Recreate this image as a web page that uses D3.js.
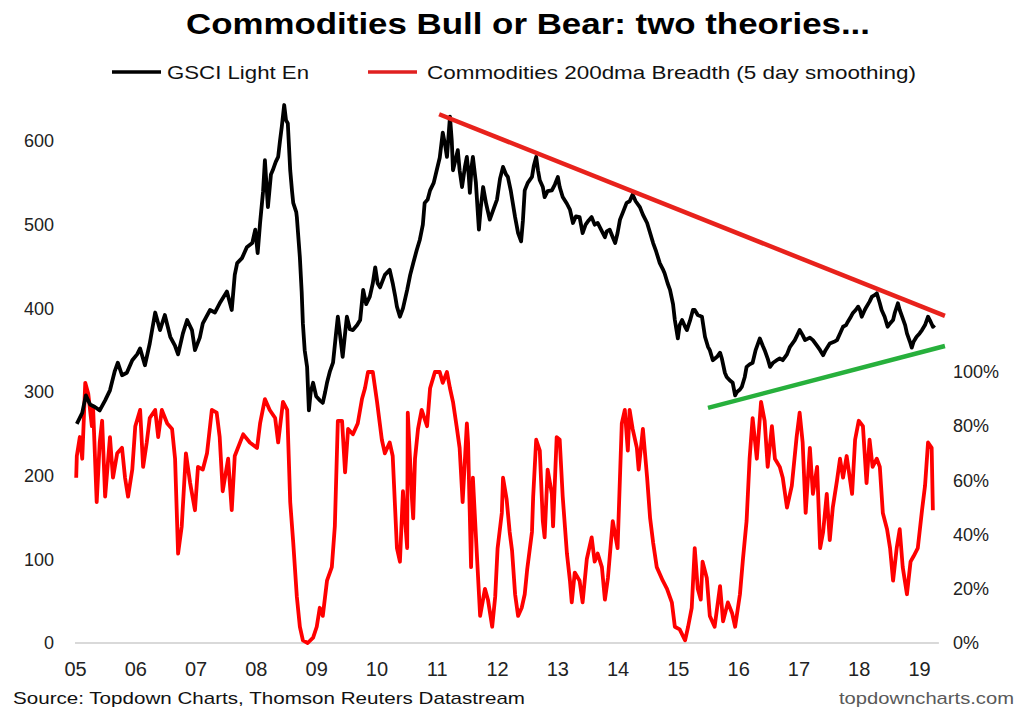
<!DOCTYPE html>
<html><head><meta charset="utf-8">
<script src="https://cdn.jsdelivr.net/npm/d3@7"></script>
<style>body{margin:0;background:#fff} svg{display:block}</style>
</head><body>
<svg id="chart" width="1024" height="720"></svg>
<script>
// ---------- DATA ----------
const titleText = "Commodities Bull or Bear: two theories...";
const seriesNames = ["GSCI Light En", "Commodities 200dma Breadth (5 day smoothing)"];
const sourceText = "Source: Topdown Charts, Thomson Reuters Datastream";
const brandText = "topdowncharts.com";

const yearTicks = [2005,2006,2007,2008,2009,2010,2011,2012,2013,2014,2015,2016,2017,2018,2019];
const yearLabels = ["05","06","07","08","09","10","11","12","13","14","15","16","17","18","19"];
const leftTicks = [0,100,200,300,400,500,600];
const rightTicks = [0,20,40,60,80,100];

const gsciDates = [
 2005.03,2005.12,2005.18,2005.25,2005.33,2005.41,2005.50,2005.58,2005.66,2005.71,2005.78,2005.86,2005.95,
 2006.03,2006.08,2006.16,2006.24,2006.33,2006.41,2006.49,2006.58,2006.66,2006.71,2006.79,2006.86,2006.94,2006.99,
 2007.07,2007.12,2007.24,2007.32,2007.40,2007.52,2007.60,2007.65,2007.69,2007.77,2007.85,2007.94,2007.99,
 2008.03,2008.07,2008.12,2008.15,2008.20,2008.25,2008.28,2008.33,2008.37,2008.40,2008.43,2008.47,2008.50,2008.53,2008.57,2008.60,2008.62,2008.67,2008.68,2008.73,2008.76,2008.78,2008.81,2008.85,2008.88,2008.91,2008.95,
 2009.00,2009.06,2009.11,2009.15,2009.18,2009.23,2009.28,2009.33,2009.36,2009.41,2009.44,2009.48,2009.51,2009.56,2009.61,2009.68,2009.73,2009.78,2009.83,2009.89,2009.94,2009.98,
 2010.02,2010.06,2010.14,2010.22,2010.27,2010.31,2010.34,2010.39,2010.44,2010.51,2010.56,2010.61,2010.67,2010.72,2010.77,2010.80,2010.85,2010.89,2010.95,
 2011.00,2011.05,2011.10,2011.14,2011.17,2011.22,2011.25,2011.27,2011.32,2011.35,2011.38,2011.42,2011.47,2011.50,2011.53,2011.55,2011.58,2011.60,2011.65,2011.70,2011.73,2011.77,2011.82,2011.88,2011.95,
 2012.00,2012.05,2012.10,2012.15,2012.18,2012.23,2012.30,2012.35,2012.40,2012.43,2012.46,2012.51,2012.58,2012.61,2012.65,2012.68,2012.71,2012.76,2012.79,2012.84,2012.91,2012.96,
 2013.01,2013.04,2013.09,2013.16,2013.21,2013.26,2013.31,2013.37,2013.42,2013.47,2013.52,2013.57,2013.62,2013.67,2013.72,2013.79,2013.82,2013.87,2013.92,2013.96,
 2014.00,2014.04,2014.09,2014.15,2014.20,2014.25,2014.30,2014.37,2014.42,2014.49,2014.54,2014.59,2014.64,2014.70,2014.75,2014.78,2014.83,2014.87,2014.92,2014.95,
 2015.00,2015.03,2015.07,2015.12,2015.15,2015.20,2015.25,2015.28,2015.33,2015.40,2015.45,2015.50,2015.53,2015.58,2015.65,2015.70,2015.73,2015.78,2015.81,2015.86,2015.91,2015.95,2015.98,
 2016.03,2016.06,2016.11,2016.14,2016.19,2016.24,2016.29,2016.36,2016.41,2016.44,2016.49,2016.53,2016.58,2016.64,2016.69,2016.74,2016.81,2016.86,2016.94,
 2017.02,2017.07,2017.11,2017.19,2017.24,2017.31,2017.36,2017.41,2017.45,2017.52,2017.59,2017.64,2017.69,2017.74,2017.79,2017.82,2017.87,2017.90,2017.95,2017.99,
 2018.02,2018.05,2018.10,2018.13,2018.18,2018.22,2018.27,2018.30,2018.35,2018.38,2018.43,2018.48,2018.52,2018.57,2018.60,2018.65,2018.68,2018.72,2018.77,2018.80,2018.85,2018.88,2018.91,2018.96,
 2019.01,2019.05,2019.10,2019.15,2019.18,2019.23,2019.26
];
const gsciValues = [
 262,275,296,285,282,278,290,302,325,335,320,323,338,
 345,352,332,358,395,374,392,366,355,345,370,386,374,350,
 365,382,398,395,406,420,398,440,454,460,473,478,494,
 466,502,540,577,521,560,565,575,581,600,617,643,625,621,565,540,526,515,509,461,420,382,350,330,278,300,311,
 295,290,287,300,311,325,335,370,390,360,342,370,390,375,374,380,386,422,405,414,430,449,
 430,425,440,446,430,415,402,390,400,422,440,454,470,482,500,526,530,541,550,
 565,580,610,595,581,629,600,565,580,589,565,545,570,581,560,538,570,581,550,494,520,545,525,506,520,
 530,555,569,560,557,540,509,490,480,505,541,550,557,570,581,565,553,545,533,540,541,548,
 557,545,533,525,518,502,510,509,490,500,505,509,500,502,495,485,492,494,485,478,
 490,506,515,526,528,536,528,521,512,502,490,478,468,454,447,442,430,422,405,386,
 364,380,386,378,374,385,398,398,392,390,366,354,350,338,342,347,340,323,318,314,311,296,300,
 303,306,318,330,333,335,350,364,355,350,340,330,335,338,340,338,345,354,362,
 374,368,362,365,362,355,350,344,350,358,360,362,370,378,380,384,390,394,398,402,
 398,390,398,402,408,414,416,418,406,398,390,378,382,386,395,406,398,390,380,370,360,353,360,366,
 370,374,380,390,386,378,380
];

const breadthDates = [
 2005.02,2005.03,2005.08,2005.12,2005.17,2005.22,2005.28,2005.30,2005.36,2005.41,2005.45,2005.50,2005.58,2005.63,2005.70,2005.78,2005.83,2005.88,2005.95,
 2006.00,2006.08,2006.13,2006.19,2006.24,2006.33,2006.38,2006.44,2006.53,2006.61,2006.66,2006.71,2006.77,2006.84,2006.91,2006.99,
 2007.04,2007.12,2007.19,2007.27,2007.35,2007.40,2007.45,2007.54,2007.60,2007.65,2007.79,2007.90,
 2008.02,2008.07,2008.15,2008.23,2008.32,2008.37,2008.45,2008.52,2008.57,2008.62,2008.68,2008.73,2008.78,2008.86,2008.95,
 2009.01,2009.06,2009.11,2009.18,2009.26,2009.31,2009.36,2009.43,2009.48,2009.53,2009.61,2009.69,2009.76,2009.81,2009.86,2009.94,
 2010.01,2010.09,2010.14,2010.22,2010.27,2010.34,2010.39,2010.44,2010.51,2010.52,2010.59,2010.61,2010.64,2010.69,2010.75,2010.84,2010.89,2010.97,
 2011.05,2011.10,2011.17,2011.22,2011.27,2011.33,2011.38,2011.43,2011.50,2011.52,2011.57,2011.60,2011.67,2011.72,2011.80,2011.85,2011.92,2011.97,
 2012.01,2012.08,2012.10,2012.16,2012.21,2012.25,2012.30,2012.35,2012.41,2012.46,2012.50,2012.58,2012.60,2012.65,2012.71,2012.76,2012.79,2012.84,2012.91,2012.93,2012.99,
 2013.04,2013.09,2013.16,2013.21,2013.24,2013.29,2013.37,2013.42,2013.49,2013.57,2013.62,2013.67,2013.74,2013.79,2013.84,2013.92,
 2014.00,2014.07,2014.12,2014.17,2014.20,2014.25,2014.32,2014.35,2014.42,2014.49,2014.54,2014.59,2014.65,2014.75,2014.82,2014.90,2014.95,
 2015.03,2015.12,2015.17,2015.23,2015.28,2015.33,2015.38,2015.41,2015.48,2015.53,2015.61,2015.70,2015.75,2015.83,2015.90,2015.95,
 2016.03,2016.08,2016.14,2016.19,2016.24,2016.31,2016.38,2016.44,2016.49,2016.56,2016.61,2016.69,2016.74,2016.81,2016.89,2016.97,
 2017.02,2017.07,2017.12,2017.19,2017.24,2017.31,2017.36,2017.41,2017.47,2017.52,2017.57,2017.64,2017.69,2017.74,2017.80,2017.89,2017.94,
 2018.00,2018.07,2018.13,2018.18,2018.23,2018.30,2018.35,2018.40,2018.47,2018.52,2018.57,2018.63,2018.68,2018.73,2018.80,2018.86,2018.91,2018.98,
 2019.05,2019.10,2019.15,2019.21,2019.23
];
const breadthValues = [
 61,69,76,68,96,92,80,87,52,74,82,54,76,61,70,72,61,54,64,
 80,86,65,74,83,86,76,86,81,79,68,33,43,70,59,49,
 65,64,70,86,85,76,56,68,49,69,77,74,
 72,81,90,86,83,74,89,86,52,37,17,6,1,0,2,
 6,13,10,23,28,43,82,82,63,79,77,81,90,94,100,100,
 89,75,70,74,69,35,30,56,35,85,53,46,68,79,86,80,94,100,
 100,96,100,94,89,80,72,52,81,74,28,61,31,10,20,16,6,17,
 35,48,61,53,41,34,18,10,13,18,27,41,54,75,71,45,39,64,55,43,76,
 75,54,33,23,15,26,23,15,31,39,30,33,28,16,24,45,
 35,81,86,71,86,79,72,64,79,61,46,37,28,23,20,15,6,
 5,1,6,13,35,20,16,30,24,10,6,21,8,15,11,6,
 18,31,45,68,83,68,89,82,65,80,68,65,61,50,58,76,
 85,74,48,72,55,65,35,41,55,38,50,60,68,61,69,55,75,
 82,80,59,75,65,68,65,48,42,35,23,35,42,28,18,30,32,35,
 49,58,74,72,49
];

// hand-drawn trend lines (in GSCI units)
const resistanceDates = [2011.04, 2019.43];
const resistanceValues = [632, 391];
const supportDates = [2015.50, 2019.43];
const supportValues = [281, 355];

// ---------- CHART ----------
const svg = d3.select("#chart");
const narrow = "'Liberation Sans Narrow','Arial Narrow','Liberation Sans',Arial,sans-serif";
const regular = "'Liberation Sans',Arial,sans-serif";

const x = d3.scaleLinear().domain([2005, 2019]).range([75, 919]);
const yL = d3.scaleLinear().domain([0, 600]).range([643, 141]);
const yR = d3.scaleLinear().domain([0, 100]).range([643, 372]);

// baseline
svg.append("line")
  .attr("x1", x(2005)).attr("x2", x(2019.33))
  .attr("y1", yL(0)).attr("y2", yL(0))
  .attr("stroke", "#d9d9d9").attr("stroke-width", 2);

// x axis
const xAxis = svg.append("g").attr("transform", `translate(0,${yL(0)})`)
  .call(d3.axisBottom(x).tickValues(yearTicks).tickFormat((d,i)=>yearLabels[i]).tickSize(0).tickPadding(19));
xAxis.select(".domain").remove();
xAxis.selectAll("text").attr("font-family", narrow).attr("font-size", 20).attr("fill", "#222");

// left axis
const lAxis = svg.append("g").attr("transform", "translate(57,0)")
  .call(d3.axisLeft(yL).tickValues(leftTicks).tickSize(0).tickPadding(3));
lAxis.select(".domain").remove();
lAxis.selectAll("text").attr("font-family", regular).attr("font-size", 18).attr("fill", "#222");

// right axis
const rAxis = svg.append("g").attr("transform", "translate(950,0)")
  .call(d3.axisRight(yR).tickValues(rightTicks).tickFormat(d => d + "%").tickSize(0).tickPadding(3));
rAxis.select(".domain").remove();
rAxis.selectAll("text").attr("font-family", regular).attr("font-size", 18).attr("fill", "#222");

// red breadth series
const breadth = d3.zip(breadthDates, breadthValues);
svg.append("path").datum(breadth)
  .attr("fill", "none").attr("stroke", "#ff0000").attr("stroke-width", 3.8)
  .attr("stroke-linejoin", "round")
  .attr("d", d3.line().x(d => x(d[0])).y(d => yR(d[1])));

// black GSCI series
const gsci = d3.zip(gsciDates, gsciValues);
svg.append("path").datum(gsci)
  .attr("fill", "none").attr("stroke", "#000").attr("stroke-width", 3.8)
  .attr("stroke-linejoin", "round")
  .attr("d", d3.line().x(d => x(d[0])).y(d => yL(d[1])));

// trend lines
svg.append("line")
  .attr("x1", x(resistanceDates[0])).attr("y1", yL(resistanceValues[0]))
  .attr("x2", x(resistanceDates[1])).attr("y2", yL(resistanceValues[1]))
  .attr("stroke", "#e8221c").attr("stroke-width", 4.5);
svg.append("line")
  .attr("x1", x(supportDates[0])).attr("y1", yL(supportValues[0]))
  .attr("x2", x(supportDates[1])).attr("y2", yL(supportValues[1]))
  .attr("stroke", "#27b03c").attr("stroke-width", 4.5);

// title
svg.append("text").attr("x", 528).attr("y", 34).attr("text-anchor", "middle")
  .attr("font-family", narrow).attr("font-weight", "bold").attr("font-size", 29)
  .attr("textLength", 684).attr("lengthAdjust", "spacingAndGlyphs")
  .text(titleText);

// legend
svg.append("line").attr("x1", 112).attr("x2", 161).attr("y1", 72).attr("y2", 72)
  .attr("stroke", "#000").attr("stroke-width", 3.5);
svg.append("text").attr("x", 167).attr("y", 79)
  .attr("font-family", narrow).attr("font-size", 19).attr("fill", "#111")
  .attr("textLength", 142).attr("lengthAdjust", "spacingAndGlyphs")
  .text(seriesNames[0]);
svg.append("line").attr("x1", 368).attr("x2", 417).attr("y1", 72).attr("y2", 72)
  .attr("stroke", "#e02020").attr("stroke-width", 3.5);
svg.append("text").attr("x", 427).attr("y", 79)
  .attr("font-family", narrow).attr("font-size", 19).attr("fill", "#111")
  .attr("textLength", 489).attr("lengthAdjust", "spacingAndGlyphs")
  .text(seriesNames[1]);

// footer
svg.append("text").attr("x", 13).attr("y", 704)
  .attr("font-family", narrow).attr("font-size", 17).attr("fill", "#111")
  .attr("textLength", 512).attr("lengthAdjust", "spacingAndGlyphs")
  .text(sourceText);
svg.append("text").attr("x", 839).attr("y", 704)
  .attr("font-family", narrow).attr("font-size", 17).attr("fill", "#595959")
  .attr("textLength", 175).attr("lengthAdjust", "spacingAndGlyphs")
  .text(brandText);
</script>
</body></html>
